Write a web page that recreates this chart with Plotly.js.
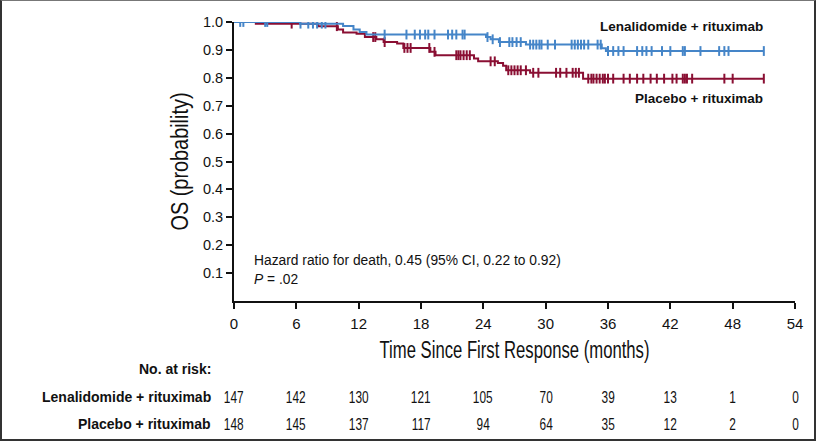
<!DOCTYPE html>
<html>
<head>
<meta charset="utf-8">
<script src="https://cdn.plot.ly/plotly-3.0.1.min.js"></script>
<style>
  html, body { margin: 0; padding: 0; background: #fff; }
  #wrap { position: relative; width: 816px; height: 441px; }
  #chart { width: 816px; height: 441px; }
  #frame { position: absolute; left: 0; top: 0; width: 816px; height: 441px; box-sizing: border-box;
           border: 2px solid #333; border-top: 1px solid #777; pointer-events: none; }
</style>
</head>
<body>
<div id="wrap"><div id="chart"></div><div id="frame"></div></div>
<script>
// ---- data ----
const timeTicks = [0, 6, 12, 18, 24, 30, 36, 42, 48, 54];
const probTicks = [0.1, 0.2, 0.3, 0.4, 0.5, 0.6, 0.7, 0.8, 0.9, 1.0];
const probTickText = ['0.1','0.2','0.3','0.4','0.5','0.6','0.7','0.8','0.9','1.0'];

const lenaName = 'Lenalidomide + rituximab';
const placName = 'Placebo + rituximab';

// Kaplan-Meier step points (time in months, survival probability)
const lenaTime = [0, 6.35, 10.5, 11.5, 12.1, 12.75, 24.26, 24.7, 25.5, 28.1, 35.4, 35.8, 51.0];
const lenaSurv = [1.0, 0.994, 0.986, 0.973, 0.964, 0.955, 0.946, 0.938, 0.928, 0.919, 0.906, 0.896, 0.896];

const placTime = [0, 2.1, 8.1, 10.0, 10.5, 11.8, 12.6, 13.7, 14.4, 15.7, 16.3, 18.9, 19.4, 23.1, 23.5, 25.4, 25.9, 26.2, 28.5, 33.6, 51.0];
const placSurv = [1.0, 0.994, 0.985, 0.973, 0.962, 0.958, 0.946, 0.938, 0.928, 0.923, 0.907, 0.893, 0.881, 0.869, 0.859, 0.853, 0.843, 0.827, 0.818, 0.797, 0.797];

// censoring times
const lenaCensor = [0.6, 0.9, 3.0, 3.2, 6.4, 7.15, 7.6, 8.0, 8.45, 8.8, 14.5, 16.6, 17.4, 17.9, 18.4, 18.7, 19.3,
  20.6, 21.0, 21.4, 22.0, 22.2, 24.4, 24.9, 25.6, 26.5, 26.8, 27.2, 27.6, 28.5, 28.8, 29.1, 29.4, 29.6, 30.2, 30.9,
  32.5, 32.8, 33.1, 33.4, 33.7, 34.1, 35.0, 35.3, 36.0, 36.5, 37.0, 37.5, 38.8, 39.3, 39.7, 40.2, 41.2, 42.0,
  43.2, 43.4, 44.9, 46.7, 47.2, 47.6, 51.0];
const placCensor = [5.55, 9.9, 13.4, 13.6, 14.5, 16.4, 16.7, 17.0, 18.8, 19.3, 21.4, 21.6, 21.8, 22.1, 22.4, 22.7,
  24.7, 25.1, 26.4, 26.7, 27.0, 27.3, 27.6, 28.1, 28.8, 29.3, 31.0, 31.4, 32.0, 32.6, 32.9, 33.2, 34.1, 34.4, 34.6,
  34.9, 35.2, 35.5, 35.7, 36.0, 36.5, 37.5, 38.1, 38.8, 39.4, 40.1, 40.7, 41.4, 42.2, 42.6, 43.2, 43.4, 43.6, 44.1,
  47.2, 48.0, 51.0];

// numbers at risk
const lenaAtRisk = [147, 142, 130, 121, 105, 70, 39, 13, 1, 0];
const placAtRisk = [148, 145, 137, 117, 94, 64, 35, 12, 2, 0];

const hrText = 'Hazard ratio for death, 0.45 (95% CI, 0.22 to 0.92)';
const pText = '<i>P</i> = .02';

// ---- styles ----
const blue = '#4585c8';
const red = '#8a0f33';
const SANS = '"Liberation Sans", Arial, Helvetica, sans-serif';

function stepValue(times, surv, t) {
  let v = surv[0];
  for (let i = 0; i < times.length; i++) { if (times[i] <= t) v = surv[i]; }
  return v;
}

const traces = [
  { x: placTime, y: placSurv, mode: 'lines', line: { shape: 'hv', color: red, width: 2 }, hoverinfo: 'skip', name: placName },
  { x: placCensor, y: placCensor.map(t => stepValue(placTime, placSurv, t)), mode: 'markers',
    marker: { symbol: 'line-ns', size: 7, color: red, line: { color: red, width: 2 } }, hoverinfo: 'skip' },
  { x: lenaTime, y: lenaSurv, mode: 'lines', line: { shape: 'hv', color: blue, width: 2 }, hoverinfo: 'skip', name: lenaName },
  { x: lenaCensor, y: lenaCensor.map(t => stepValue(lenaTime, lenaSurv, t)), mode: 'markers',
    marker: { symbol: 'line-ns', size: 7, color: blue, line: { color: blue, width: 2 } }, hoverinfo: 'skip' }
];

// plot area geometry in pixels
const M = { l: 234, r: 21, t: 22, b: 140 };
const plotH = 441 - M.t - M.b;
const plotW = 816 - M.l - M.r;
const py = px => (441 - M.b - px) / plotH;   // pixel y -> paper y
const pxX = px => (px - M.l) / plotW;        // pixel x -> paper x

const annotations = [];
const condenseList = [];   // [annotation index, width factor, keep edge]
function addAnn(a, factor) {
  if (factor) condenseList.push([annotations.length, factor, a.xanchor]);
  annotations.push(a);
}

addAnn({ xref: 'x', yref: 'paper', x: 51.1, y: py(27), xanchor: 'right', yanchor: 'middle',
  text: lenaName, showarrow: false, font: { family: SANS, size: 13.5, color: '#111', weight: 700 } });
addAnn({ xref: 'x', yref: 'paper', x: 51.1, y: py(98.5), xanchor: 'right', yanchor: 'middle',
  text: placName, showarrow: false, font: { family: SANS, size: 13.5, color: '#111', weight: 700 } });
addAnn({ xref: 'paper', yref: 'paper', x: pxX(252), y: py(260), xanchor: 'left', yanchor: 'middle',
  text: hrText, showarrow: false, font: { family: SANS, size: 13.8, color: '#111' } });
addAnn({ xref: 'paper', yref: 'paper', x: pxX(252), y: py(279), xanchor: 'left', yanchor: 'middle',
  text: pText, showarrow: false, font: { family: SANS, size: 13.8, color: '#111' } });

// number-at-risk table
addAnn({ xref: 'paper', yref: 'paper', x: pxX(213), y: py(369), xanchor: 'right', yanchor: 'middle',
  text: 'No. at risk:', showarrow: false, font: { family: SANS, size: 14, color: '#111', weight: 700 } });
addAnn({ xref: 'paper', yref: 'paper', x: pxX(213), y: py(396.5), xanchor: 'right', yanchor: 'middle',
  text: lenaName, showarrow: false, font: { family: SANS, size: 14, color: '#111', weight: 700 } });
addAnn({ xref: 'paper', yref: 'paper', x: pxX(213), y: py(424), xanchor: 'right', yanchor: 'middle',
  text: placName, showarrow: false, font: { family: SANS, size: 14, color: '#111', weight: 700 } });
timeTicks.forEach((t, i) => {
  addAnn({ xref: 'x', yref: 'paper', x: t, y: py(396.5), xanchor: 'center', yanchor: 'middle',
    text: String(lenaAtRisk[i]), showarrow: false, font: { family: SANS, size: 16.5, color: '#111' } }, 0.72);
  addAnn({ xref: 'x', yref: 'paper', x: t, y: py(424), xanchor: 'center', yanchor: 'middle',
    text: String(placAtRisk[i]), showarrow: false, font: { family: SANS, size: 16.5, color: '#111' } }, 0.72);
});

const layout = {
  width: 816, height: 441,
  margin: M,
  paper_bgcolor: '#fff', plot_bgcolor: '#fff',
  showlegend: false,
  font: { family: SANS, color: '#111' },
  xaxis: {
    range: [0, 54], tickvals: timeTicks, ticktext: timeTicks.map(String),
    showline: true, linecolor: '#111', linewidth: 2, mirror: false,
    ticks: 'outside', ticklen: 6, tickwidth: 2, tickcolor: '#111',
    showgrid: false, zeroline: false, ticklabelstandoff: 2,
    tickfont: { family: SANS, size: 15, color: '#111' },
    title: { text: 'Time Since First Response (months)', font: { family: SANS, size: 23, color: '#111' }, standoff: 11 }
  },
  yaxis: {
    range: [0, 1.0], tickvals: probTicks, ticktext: probTickText,
    showline: true, linecolor: '#111', linewidth: 2,
    ticks: 'outside', ticklen: 6, tickwidth: 2, tickcolor: '#111',
    showgrid: false, zeroline: false,
    tickfont: { family: SANS, size: 14.5, color: '#111' },
    title: { text: 'OS (probability)', font: { family: SANS, size: 23, color: '#111' }, standoff: 8 }
  },
  annotations: annotations
};

// condense a text element (real SVG text, glyphs narrowed like a condensed face),
// keeping its left / centre / right edge where the library placed it
function condense(el, target, keep) {
  if (!el) return;
  const len = el.getComputedTextLength();
  if (!(len > 0)) return;
  const b0 = el.getBBox();
  el.setAttribute('textLength', target.toFixed(1));
  el.setAttribute('lengthAdjust', 'spacingAndGlyphs');
  const b1 = el.getBBox();
  let dx;
  if (keep === 'right') dx = (b0.x + b0.width) - (b1.x + b1.width);
  else if (keep === 'left') dx = b0.x - b1.x;
  else dx = (b0.x + b0.width / 2) - (b1.x + b1.width / 2);
  const x0 = parseFloat(el.getAttribute('x') || '0');
  el.setAttribute('x', (x0 + dx).toFixed(2));
}

Plotly.newPlot('chart', traces, layout, { displayModeBar: false, staticPlot: true }).then(gd => {
  condense(gd.querySelector('.xtitle'), 270, 'center');
  condense(gd.querySelector('.ytitle'), 138, 'center');
  condenseList.forEach(([i, f, keep]) => {
    const el = gd.querySelector('.annotation[data-index="' + i + '"] text');
    if (el) condense(el, el.getComputedTextLength() * f, keep);
  });
});
</script>
</body>
</html>
